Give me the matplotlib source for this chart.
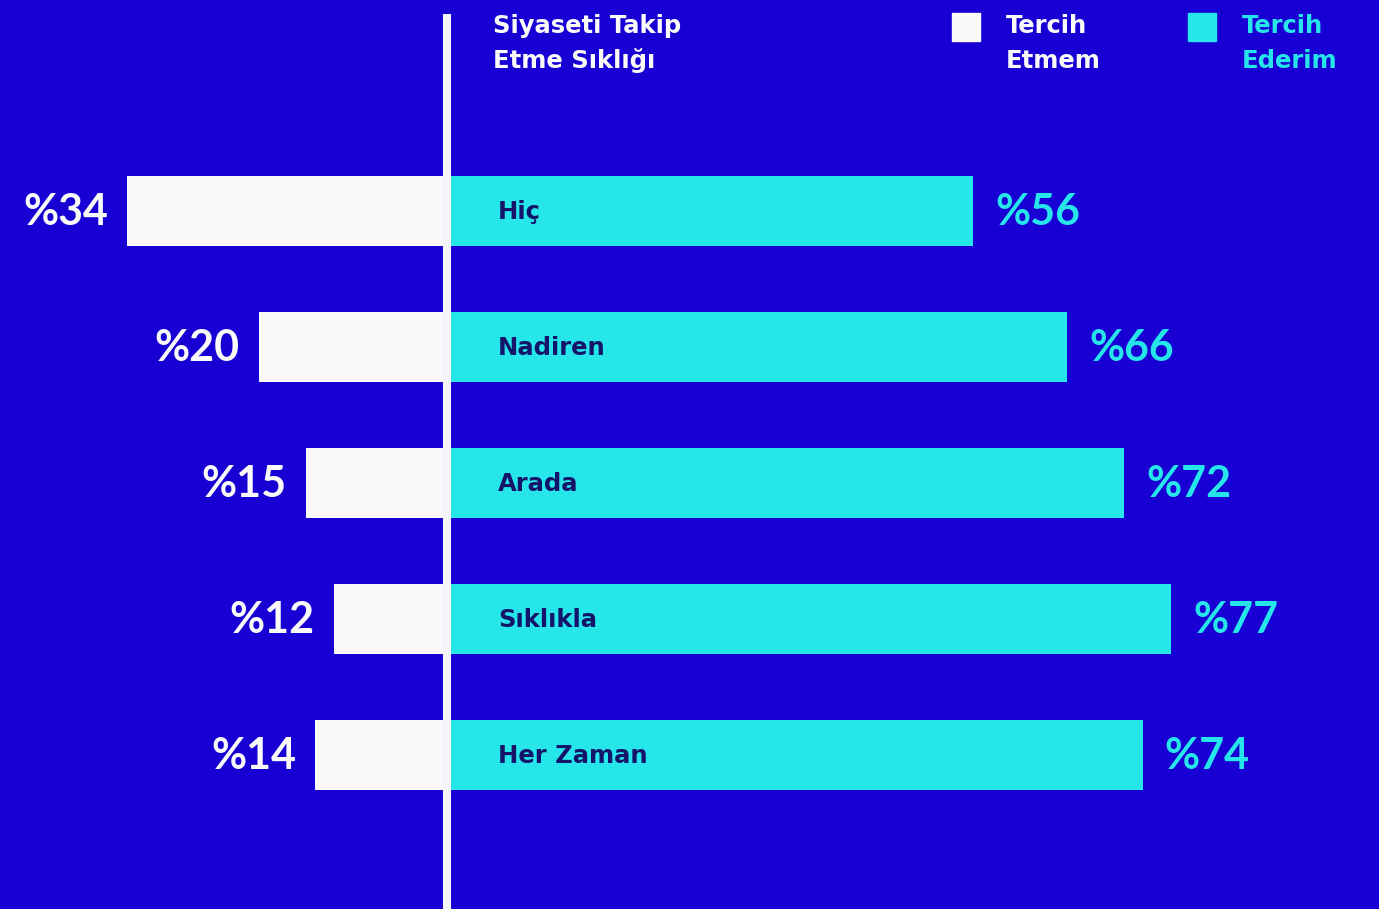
import numpy as np
import matplotlib.pyplot as plt

# data
categories = ['Hiç', 'Nadiren', 'Arada', 'Sıklıkla', 'Her Zaman']
tercih_etmem = [34, 20, 15, 12, 14]
tercih_ederim = [56, 66, 72, 77, 74]

bg = '#1800D4'
white = '#FAFAFA'
cyan = '#27E6EA'
navy = '#14146A'

label_font = ['DejaVu Sans']
num_font = ['Lato', 'DejaVu Sans']

fig = plt.figure(figsize=(13.79, 9.09), dpi=100, facecolor=bg)
ax = fig.add_axes([0, 0, 1, 1])
ax.set_facecolor(bg)

# pixel -> data mapping: 9.4 px per percent, zero at x=447; 136 px per row, first row centred at y=211
px = 9.4
row = 136
ax.set_xlim(-447 / px, (1379 - 447) / px)
ax.set_ylim((909 - 211) / row, -211 / row)
ax.axis('off')

y = np.arange(len(categories))
h = 70 / row
ax.barh(y, [-v for v in tercih_etmem], height=h, color=white, zorder=2)
ax.barh(y, tercih_ederim, height=h, color=cyan, zorder=2)

# center line
ax.vlines(0, -197 / row, (909 - 211) / row + 0.1, color='#F4F4FA', linewidth=5.8, zorder=3)

for i, (l, r, c) in enumerate(zip(tercih_etmem, tercih_ederim, categories)):
    ax.annotate(f'%{l}', (-l, i + 14 / row), xytext=(-14, 0), textcoords='offset points',
                ha='right', va='baseline', color=white, fontsize=31, fontweight='bold',
                family=num_font)
    ax.annotate(f'%{r}', (r, i + 14 / row), xytext=(16, 0), textcoords='offset points',
                ha='left', va='baseline', color=cyan, fontsize=31, fontweight='bold',
                family=num_font)
    ax.text(51 / px, i + 8 / row, c, ha='left', va='baseline', color=navy,
            fontsize=17.5, fontweight='bold', family=label_font, zorder=4)

# header and legend, one line at a time
def two_lines(x, lines, color):
    for base, s in zip([33, 68], lines):
        fig.text(x / 1379, 1 - base / 909, s, ha='left', va='baseline', color=color,
                 fontsize=17.5, fontweight='bold', family=label_font)

two_lines(493, ['Siyaseti Takip', 'Etme Sıklığı'], white)

fig.patches.append(plt.Rectangle((952 / 1379, 1 - 41 / 909), 28 / 1379, 28 / 909,
                                 transform=fig.transFigure, color=white))
two_lines(1006, ['Tercih', 'Etmem'], white)
fig.patches.append(plt.Rectangle((1188 / 1379, 1 - 41 / 909), 28 / 1379, 28 / 909,
                                 transform=fig.transFigure, color=cyan))
two_lines(1242, ['Tercih', 'Ederim'], cyan)

fig.savefig('out.png', dpi=100, facecolor=bg)
